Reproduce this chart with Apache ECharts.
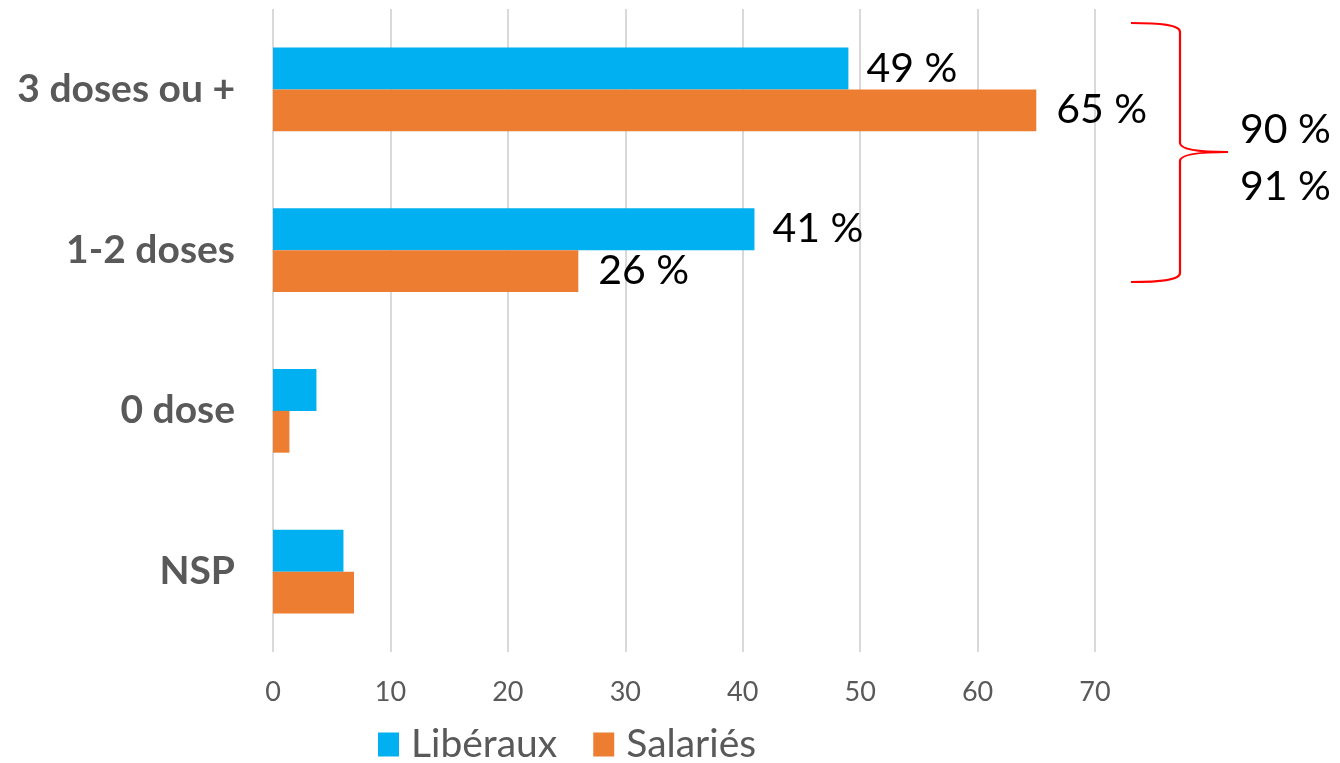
<!DOCTYPE html>
<html>
<head>
<meta charset="utf-8">
<script src="https://cdn.jsdelivr.net/npm/echarts@6/dist/echarts.min.js"></script>
<style>
  html, body { margin: 0; padding: 0; background: #fff; }
  #main { width: 1340px; height: 763px; }
</style>
</head>
<body>
<div id="main"></div>
<script>
var categories = ['3 doses ou +', '1-2 doses', '0 dose', 'NSP'];
var liberaux = [49, 41, 3.7, 6.0];
var salaries = [65, 26, 1.4, 6.9];
var liberauxLabels = ['49 %', '41 %', '', ''];
var salariesLabels = ['65 %', '26 %', '', ''];
var xTicks = [0, 10, 20, 30, 40, 50, 60, 70];
var cumulLabels = ['90 %', '91 %'];

var FONT = 'Lato, "Open Sans", sans-serif';

var chart = echarts.init(document.getElementById('main'));

function labelFor(arr) {
  return function (p) { return arr[p.dataIndex]; };
}

// accolade rouge
var braceStyle = { fill: null, stroke: '#FF0000', lineWidth: 2.2 };
function bez(a, b, c, d, e, f, g, h) {
  return { type: 'bezierCurve', shape: { x1: a, y1: b, cpx1: c, cpy1: d, cpx2: e, cpy2: f, x2: g, y2: h }, style: braceStyle };
}
function seg(a, b, c, d) {
  return { type: 'line', shape: { x1: a, y1: b, x2: c, y2: d }, style: braceStyle };
}

var option = {
  animation: false,
  color: ['#00B0F0', '#ED7D31'],
  grid: { left: 273, right: 245, top: 9, bottom: 111 },
  legend: {
    top: 725,
    left: 378,
    padding: 0,
    itemWidth: 21,
    itemHeight: 24,
    itemGap: 36,
    icon: 'rect',
    textStyle: { fontFamily: FONT, fontSize: 39, color: '#595959', padding: [0, 0, 0, 7] },
    data: ['Libéraux', 'Salariés']
  },
  xAxis: {
    type: 'value',
    min: xTicks[0],
    max: xTicks[xTicks.length - 1],
    interval: 10,
    axisLine: { show: false },
    axisTick: { show: false },
    splitLine: { show: true, lineStyle: { color: '#D9D9D9', width: 2 } },
    axisLabel: { fontFamily: FONT, fontSize: 27, color: '#595959', margin: 27 }
  },
  yAxis: {
    type: 'category',
    inverse: true,
    data: categories,
    axisLine: { show: false },
    axisTick: { show: false },
    axisLabel: { fontFamily: FONT, fontSize: 39, fontWeight: 'bold', color: '#595959', margin: 38 }
  },
  series: [
    {
      name: 'Libéraux',
      type: 'bar',
      data: liberaux,
      barGap: '0%',
      barCategoryGap: '48%',
      label: {
        show: true, position: 'right', distance: 18,
        formatter: labelFor(liberauxLabels),
        fontFamily: FONT, fontSize: 41, color: '#000'
      }
    },
    {
      name: 'Salariés',
      type: 'bar',
      data: salaries,
      barGap: '0%',
      barCategoryGap: '48%',
      label: {
        show: true, position: 'right', distance: 20,
        formatter: labelFor(salariesLabels),
        fontFamily: FONT, fontSize: 41, color: '#000'
      }
    }
  ],
  graphic: [
    bez(1131, 23, 1160, 23, 1180, 25, 1180, 32),
    seg(1180, 32, 1180, 143),
    bez(1180, 143, 1180, 150, 1200, 152, 1228, 152),
    bez(1228, 152, 1200, 152, 1180, 154, 1180, 161),
    seg(1180, 161, 1180, 273),
    bez(1180, 273, 1180, 280, 1160, 282, 1131, 282),
    {
      type: 'text', x: 1240, y: 130,
      style: { text: cumulLabels[0], fontFamily: FONT, fontSize: 41, fill: '#000', verticalAlign: 'middle' }
    },
    {
      type: 'text', x: 1240, y: 187,
      style: { text: cumulLabels[1], fontFamily: FONT, fontSize: 41, fill: '#000', verticalAlign: 'middle' }
    }
  ]
};
chart.setOption(option);
</script>
</body>
</html>
